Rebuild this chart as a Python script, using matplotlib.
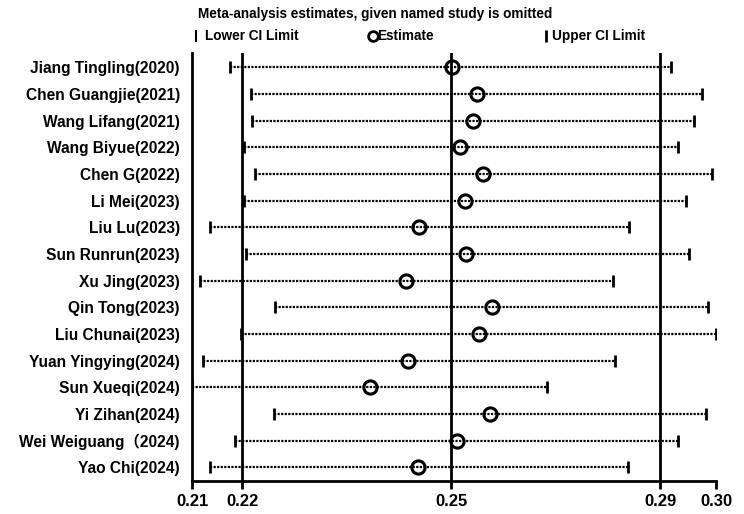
import matplotlib
matplotlib.use('Agg')
import matplotlib.pyplot as plt

plt.rcParams['font.family'] = ['Liberation Sans', 'Noto Sans CJK SC', 'DejaVu Sans']
plt.rcParams['font.weight'] = 'bold'

# study omitted, with the pooled estimate and CI limits that remain
studies = ['Jiang Tingling(2020)', 'Chen Guangjie(2021)', 'Wang Lifang(2021)',
           'Wang Biyue(2022)', 'Chen G(2022)', 'Li Mei(2023)', 'Liu Lu(2023)',
           'Sun Runrun(2023)', 'Xu Jing(2023)', 'Qin Tong(2023)', 'Liu Chunai(2023)',
           'Yuan Yingying(2024)', 'Sun Xueqi(2024)', 'Yi Zihan(2024)',
           'Wei Weiguang\uff082024)', 'Yao Chi(2024)']
estimate = [0.2544, 0.2585, 0.2579, 0.2558, 0.2596, 0.2566, 0.2490, 0.2568,
            0.2469, 0.2610, 0.2589, 0.2472, 0.2409, 0.2607, 0.2553, 0.2489]
lower = [0.2179, 0.2213, 0.2215, 0.2201, 0.2219, 0.2201, 0.2146, 0.2205,
         0.2129, 0.2252, 0.2197, 0.2133, 0.2116, 0.2251, 0.2186, 0.2145]
upper = [0.2905, 0.2957, 0.2943, 0.2917, 0.2974, 0.2931, 0.2837, 0.2935,
         0.2810, 0.2966, 0.2980, 0.2813, 0.2701, 0.2964, 0.2917, 0.2835]

# overall estimate with all studies
overall = [0.2198, 0.2543, 0.2888]

W, H = 744, 514
fig = plt.figure(figsize=(W / 100, H / 100), dpi=100)
ax = fig.add_axes([192.3 / W, 33 / H, (716 - 192.3) / W, (481 - 53) / H])

rows = list(range(1, len(studies) + 1))

for v in overall:
    ax.axvline(v, color='black', lw=2, zorder=1)

ax.hlines(rows, lower, upper, colors='black', linestyles=(0, (1, 0.6)), lw=1.6, zorder=2)
ax.plot(lower, rows, '|', color='black', ms=9, mew=2, zorder=3)
ax.plot(upper, rows, '|', color='black', ms=9, mew=2, zorder=3)
ax.plot(estimate, rows, 'o', mfc='none', mec='black', ms=9.5, mew=2.2, zorder=4)

xmin, xmax = min(lower), max(upper)
ax.set_xlim(xmin, xmax)
ax.set_ylim(len(studies) + 0.514, 0.464)
ticks = [xmin] + overall + [xmax]
ax.set_xticks(ticks)
ax.set_xticklabels(['%.2f' % t for t in ticks], fontsize=12, fontweight='bold')
ax.set_yticks(rows)
ax.set_yticklabels(studies, fontsize=11.2, fontweight='bold')
ax.tick_params(axis='y', length=0, pad=9)
ax.tick_params(axis='x', length=6, width=2, pad=3)

for s in ['top', 'right']:
    ax.spines[s].set_visible(False)
for s in ['left', 'bottom']:
    ax.spines[s].set_linewidth(2)

def px(x, y):
    return x / W, 1 - y / H

fig.text(*px(198, 14), 'Meta-analysis estimates, given named study is omitted',
         fontsize=9.8, fontweight='bold', va='center', ha='left')
fig.text(*px(205, 36), 'Lower CI Limit', fontsize=9.8, fontweight='bold', va='center')
fig.text(*px(377, 36), 'Estimate', fontsize=9.8, fontweight='bold', va='center')
fig.text(*px(552, 36), 'Upper CI Limit', fontsize=9.8, fontweight='bold', va='center')
fig.lines.append(plt.Line2D([196 / W], [1 - 36 / H], marker='|', color='black',
                            ms=9, mew=1.5, transform=fig.transFigure))
fig.lines.append(plt.Line2D([373 / W], [1 - 36 / H], marker='o', mfc='none', mec='black',
                            ms=7, mew=2, transform=fig.transFigure))
fig.lines.append(plt.Line2D([546 / W], [1 - 36 / H], marker='|', color='black',
                            ms=9, mew=2, transform=fig.transFigure))

fig.savefig('out.png', dpi=100)
